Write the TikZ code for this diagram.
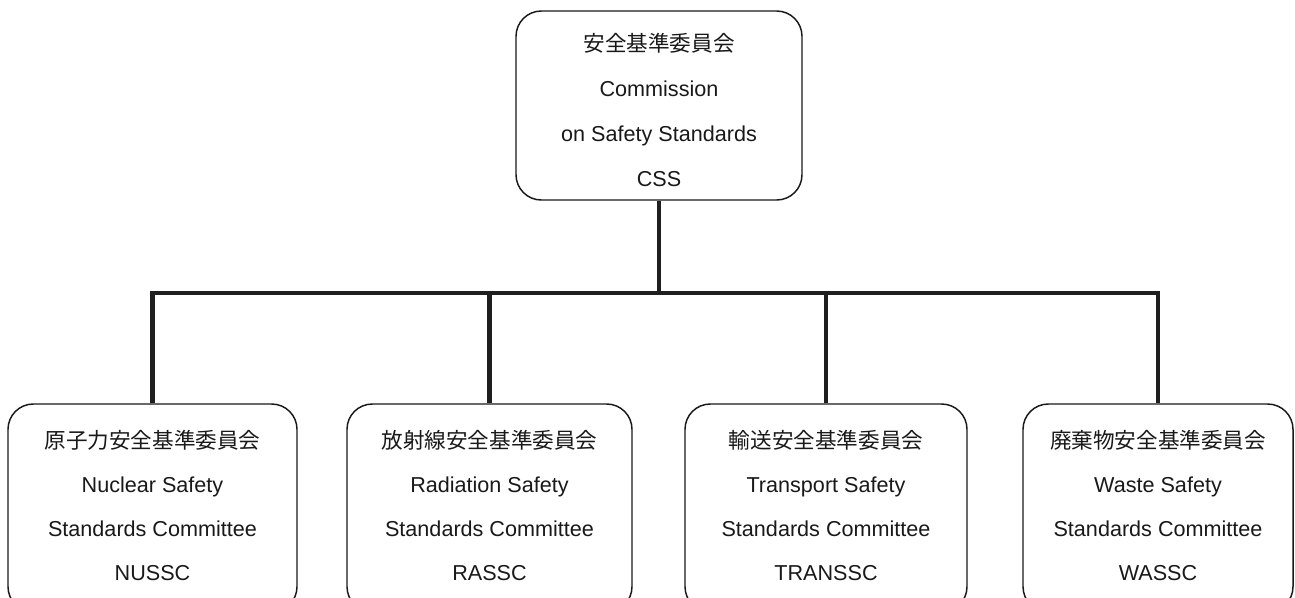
\documentclass[tikz,border=0pt]{standalone}
\usepackage{fontspec}
\setmainfont{Liberation Sans}
\newfontfamily\cjk{Noto Sans CJK JP}
\begin{document}
\begin{tikzpicture}[x=0.75pt,y=-0.75pt,
  box/.style={draw=black!90, line width=1.1pt, rounded corners=19pt, inner sep=0pt, fill=white},
  lbl/.style={anchor=north, align=center, inner sep=0pt, text=black!90},
  lbltop/.style={lbl, font=\fontsize{16.2}{33.75}\selectfont},
  lblbot/.style={lbl, font=\fontsize{16.2}{33}\selectfont},
  conn/.style={line width=3.4pt, draw=black!88, line join=miter}]
\useasboundingbox (0,0) rectangle (1295,597);
\clip (0,0) rectangle (1295,597);
% boxes
\node[box, minimum width=214.5pt, minimum height=141.75pt] (css) at (659,105.5) {};
\node[box, minimum width=216.75pt, minimum height=156pt] (nussc) at (152.5,508) {};
\node[box, minimum width=213.75pt, minimum height=156pt] (rassc) at (489.5,508) {};
\node[box, minimum width=211.5pt, minimum height=156pt] (transsc) at (826,508) {};
\node[box, minimum width=202.5pt, minimum height=156pt] (wassc) at (1158,508) {};
% labels
\node[lbltop] (css-t) at (659,33) {{\cjk 安全基準委員会}\\Commission\\on Safety Standards\\CSS};
\node[lblbot] (nussc-t) at (152.5,430) {{\cjk 原子力安全基準委員会}\\Nuclear Safety\\Standards Committee\\NUSSC};
\node[lblbot] (rassc-t) at (489.5,430) {{\cjk 放射線安全基準委員会}\\Radiation Safety\\Standards Committee\\RASSC};
\node[lblbot] (transsc-t) at (826,430) {{\cjk 輸送安全基準委員会}\\Transport Safety\\Standards Committee\\TRANSSC};
\node[lblbot] (wassc-t) at (1158,430) {{\cjk 廃棄物安全基準委員会}\\Waste Safety\\Standards Committee\\WASSC};
% connectors
\coordinate (bus) at (659,293);
\draw[conn] (css.south) -- (bus);
\draw[conn] (nussc.north) |- (bus) -| (wassc.north);
\draw[conn] (rassc.north) -- (rassc.north |- bus);
\draw[conn] (transsc.north) -- (transsc.north |- bus);
\end{tikzpicture}
\end{document}
